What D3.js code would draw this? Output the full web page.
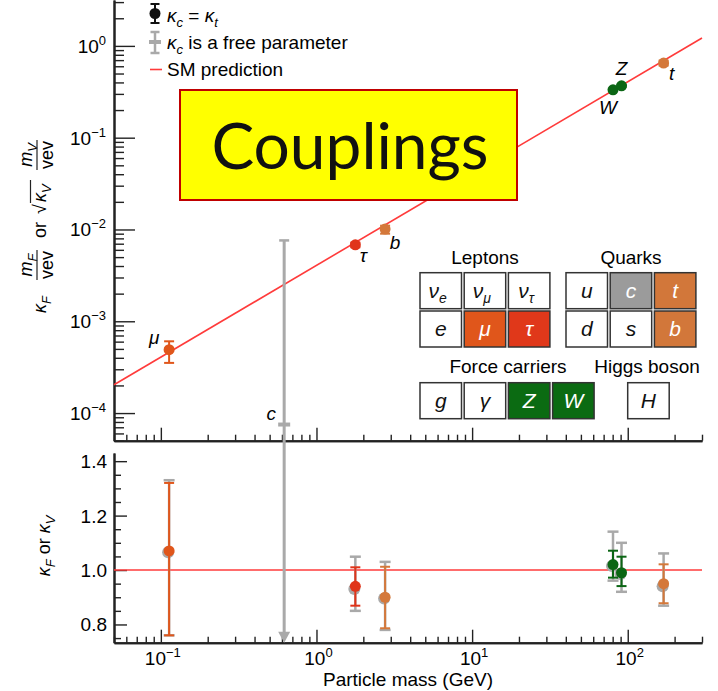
<!DOCTYPE html>
<html>
  <head>
    <meta charset="utf-8">
    <title>Couplings</title>
    <script src="https://d3js.org/d3.v7.min.js"></script>
    <style>
      body { margin: 0; background: #fff; }
      svg { font-family: "Liberation Sans", Arial, sans-serif; }
      .axis path, .axis line { stroke: #222; }
      .it { font-style: italic; }
    </style>
  </head>
  <body>
    <script type="text/javascript">
    // ---- data ----
    var names    = ['mu', 'tau', 'b', 'W', 'Z', 't'];
    var symbols  = ['\u03bc', '\u03c4', 'b', 'W', 'Z', 't'];
    var masses   = [0.113, 1.777, 2.76, 80.4, 91.2, 170];      // GeV
    var colours  = ['#e0561b', '#e0341a', '#d4783a', '#0b6614', '#0b6614', '#d4783a'];

    // top panel: kappa * m / vev (or sqrt(kappa) m / vev)
    var topValue = [4.9e-4, 6.8e-3, 1.01e-2, 0.332, 0.367, 0.65];
    var topLow   = [3.52e-4, 6.4e-3, 9.0e-3, 0.325, 0.358, 0.61];
    var topHigh  = [6.05e-4, 7.2e-3, 1.1e-2, 0.34, 0.376, 0.69];

    // bottom panel: kappa values, kappa_c = kappa_t
    var kappa     = [1.07, 0.94, 0.90, 1.02, 0.99, 0.95];
    var kappaLow  = [0.76, 0.869, 0.786, 0.972, 0.941, 0.878];
    var kappaHigh = [1.32, 1.01, 1.012, 1.071, 1.049, 1.021];

    // bottom panel: kappa_c free (grey)
    var freeKappa = [1.065, 0.93, 0.895, 1.015, 0.985, 0.94];
    var freeLow   = [0.76, 0.85, 0.78, 0.961, 0.92, 0.869];
    var freeHigh  = [1.33, 1.049, 1.03, 1.141, 1.10, 1.061];

    // charm quark, only with kappa_c free
    var charmMass = 0.62;
    var charmValue = 7.5e-5;
    var charmHigh = 7.6e-3;

    var vev = 246;
    var smMasses = [0.05, 300];   // ends of the SM line

    var xDecades = [0.1, 1, 10, 100];
    var yDecades = [1e-4, 1e-3, 1e-2, 1e-1, 1];
    var kappaMajor = [0.8, 1.0, 1.2, 1.4];

    // particle table
    var leptons1 = ['\u03bd|e', '\u03bd|\u03bc', '\u03bd|\u03c4'];
    var leptons2 = ['e', '\u03bc', '\u03c4'];
    var quarks1  = ['u', 'c', 't'];
    var quarks2  = ['d', 's', 'b'];
    var forces   = ['g', '\u03b3', 'Z', 'W'];
    var higgs    = ['H'];
    var boxFill = {
      '\u03bc': '#e0561b', '\u03c4': '#e0381a', 'c': '#9b9b9b',
      't': '#d2773a', 'b': '#d2773a', 'Z': '#0b6b12', 'W': '#0b6b12'
    };

    // ---- layout ----
    var W = 718, H = 691;
    var left = 114, right = 702;
    var topTop = 0, topBottom = 440.7;
    var botTop = 453, botBottom = 642.7;
    var grey = '#a9a9a9';
    var red = '#ff3b3b';

    var svg = d3.select('body').append('svg')
        .attr('width', W)
        .attr('height', H);

    var x = d3.scaleLog().domain([0.05, 300]).range([left, right]);
    var yTop = d3.scaleLog().domain([5e-5, Math.pow(10, 0.5)]).range([topBottom, topTop]);
    var yBot = d3.scaleLinear().domain([0.733, 1.43]).range([botBottom, botTop]);

    var isDecade = function(v) { return Math.abs(Math.log10(v) - Math.round(Math.log10(v))) < 1e-6; };

    // ---- axes ----
    var xMinor = x.ticks().filter(function(v) { return !isDecade(v); });
    var yMinor = yTop.ticks().filter(function(v) { return !isDecade(v); });
    var kMinor = yBot.ticks(14).filter(function(v) { return kappaMajor.indexOf(Math.round(v * 100) / 100) < 0; });

    function ticks(g, axis, values, size) {
      g.attr('class', 'axis')
        .call(axis.tickValues(values).tickSize(size).tickSizeOuter(0).tickFormat(''))
      g.select('.domain').attr('stroke-width', 2);
      g.selectAll('.tick line').attr('stroke-width', 1.4);
    }

    // top panel x ticks (pointing up)
    ticks(svg.append('g').attr('transform', 'translate(0,' + topBottom + ')'), d3.axisTop(x), xMinor, 6);
    ticks(svg.append('g').attr('transform', 'translate(0,' + topBottom + ')'), d3.axisTop(x), xDecades, 13);
    // top panel y ticks (pointing right)
    ticks(svg.append('g').attr('transform', 'translate(' + left + ',0)'), d3.axisRight(yTop), yMinor, 10);
    ticks(svg.append('g').attr('transform', 'translate(' + left + ',0)'), d3.axisRight(yTop), yDecades, 21);
    // bottom panel
    ticks(svg.append('g').attr('transform', 'translate(0,' + botBottom + ')'), d3.axisTop(x), xMinor, 6);
    ticks(svg.append('g').attr('transform', 'translate(0,' + botBottom + ')'), d3.axisTop(x), xDecades, 13);
    ticks(svg.append('g').attr('transform', 'translate(' + left + ',0)'), d3.axisRight(yBot), kMinor, 7);
    ticks(svg.append('g').attr('transform', 'translate(' + left + ',0)'), d3.axisRight(yBot), kappaMajor, 13);

    // tick labels with superscripts
    function power(sel, v) {
      var e = Math.round(Math.log10(v));
      sel.text('10');
      sel.append('tspan')
        .attr('font-size', 13)
        .attr('dy', -8)
        .text(e < 0 ? '\u2212' + (-e) : e);
    }

    svg.append('g').selectAll('text')
      .data(yDecades)
      .enter().append('text')
      .attr('x', 106)
      .attr('y', function(d) { return yTop(d) + 7; })
      .attr('text-anchor', 'end')
      .attr('font-size', 19)
      .each(function(d) { power(d3.select(this), d); });

    svg.append('g').selectAll('text')
      .data(xDecades)
      .enter().append('text')
      .attr('x', function(d) { return x(d) + 2; })
      .attr('y', 665)
      .attr('text-anchor', 'middle')
      .attr('font-size', 19)
      .each(function(d) { power(d3.select(this), d); });

    svg.append('g').selectAll('text')
      .data(kappaMajor)
      .enter().append('text')
      .attr('x', 107)
      .attr('y', function(d) { return yBot(d) + 7; })
      .attr('text-anchor', 'end')
      .attr('font-size', 19)
      .text(function(d) { return d.toFixed(1); });

    svg.append('text')
      .attr('x', (left + right) / 2)
      .attr('y', 686)
      .attr('text-anchor', 'middle')
      .attr('font-size', 19)
      .text('Particle mass (GeV)');

    // y-axis titles (rotated)
    var yt = svg.append('g')
      .attr('transform', 'translate(46,313) rotate(-90)')
      .attr('font-size', 18);

    function kap(g, xPos, sub) {
      var t = g.append('text').attr('x', xPos).attr('y', 0);
      t.append('tspan').attr('class', 'it').text('\u03ba');
      t.append('tspan').attr('class', 'it').attr('font-size', 13).attr('dy', 5).text(sub);
    }
    function frac(g, cx, sub) {
      var n = g.append('text').attr('x', cx).attr('y', -14).attr('text-anchor', 'middle');
      n.append('tspan').attr('class', 'it').text('m');
      n.append('tspan').attr('class', 'it').attr('font-size', 13).attr('dy', 5).text(sub);
      g.append('line')
        .attr('x1', cx - 15).attr('x2', cx + 15)
        .attr('y1', -9).attr('y2', -9)
        .attr('stroke', '#222').attr('stroke-width', 1.2);
      g.append('text').attr('x', cx).attr('y', 7).attr('text-anchor', 'middle').text('vev');
    }
    kap(yt, 0, 'F');
    frac(yt, 48, 'F');
    yt.append('text').attr('x', 75).attr('y', 0).text('or');
    yt.append('text').attr('x', 99).attr('y', 0).text('\u221a');
    kap(yt, 111, 'V');
    yt.append('line')
      .attr('x1', 110).attr('x2', 133)
      .attr('y1', -15.5).attr('y2', -15.5)
      .attr('stroke', '#222').attr('stroke-width', 1.2);
    frac(yt, 158, 'V');

    var yb = svg.append('g')
      .attr('transform', 'translate(50,546) rotate(-90)')
      .attr('font-size', 18);
    var ybt = yb.append('text').attr('x', 0).attr('y', 0).attr('text-anchor', 'middle');
    ybt.append('tspan').attr('class', 'it').text('\u03ba');
    ybt.append('tspan').attr('class', 'it').attr('font-size', 13).attr('dy', 5).text('F');
    ybt.append('tspan').attr('dy', -5).text(' or ');
    ybt.append('tspan').attr('class', 'it').text('\u03ba');
    ybt.append('tspan').attr('class', 'it').attr('font-size', 13).attr('dy', 5).text('V');

    // ---- SM predictions ----
    svg.append('line')
      .attr('x1', x(smMasses[0])).attr('x2', x(smMasses[1]))
      .attr('y1', yTop(smMasses[0] / vev)).attr('y2', yTop(smMasses[1] / vev))
      .attr('stroke', red).attr('stroke-width', 1.6);
    svg.append('line')
      .attr('x1', left).attr('x2', right)
      .attr('y1', yBot(1)).attr('y2', yBot(1))
      .attr('stroke', red).attr('stroke-width', 1.6);

    // ---- charm (grey, free parameter) ----
    var cx = x(charmMass);
    svg.append('line')
      .attr('x1', cx).attr('x2', cx)
      .attr('y1', yTop(charmHigh)).attr('y2', botBottom - 8)
      .attr('stroke', grey).attr('stroke-width', 3);
    svg.append('line')
      .attr('x1', cx - 5).attr('x2', cx + 5)
      .attr('y1', yTop(charmHigh)).attr('y2', yTop(charmHigh))
      .attr('stroke', grey).attr('stroke-width', 2.5);
    svg.append('path')
      .attr('d', 'M' + (cx - 6) + ',' + (botBottom - 11) + 'L' + (cx + 6) + ',' + (botBottom - 11) + 'L' + cx + ',' + botBottom + 'Z')
      .attr('fill', grey);
    svg.append('rect')
      .attr('x', cx - 6).attr('y', yTop(charmValue) - 2)
      .attr('width', 12).attr('height', 4)
      .attr('fill', grey);

    // ---- error bar helper ----
    function errbar(g, xp, y1, y2, colour, w, cap) {
      g.append('line').attr('x1', xp).attr('x2', xp).attr('y1', y1).attr('y2', y2)
        .attr('stroke', colour).attr('stroke-width', w);
      [y1, y2].forEach(function(yy) {
        g.append('line').attr('x1', xp - cap).attr('x2', xp + cap).attr('y1', yy).attr('y2', yy)
          .attr('stroke', colour).attr('stroke-width', w);
      });
    }

    // ---- top panel points ----
    var topG = svg.append('g');
    names.forEach(function(n, i) {
      errbar(topG, x(masses[i]), yTop(topLow[i]), yTop(topHigh[i]), colours[i], 2, 5);
    });
    topG.selectAll('circle')
      .data(names)
      .enter().append('circle')
      .attr('cx', function(d, i) { return x(masses[i]); })
      .attr('cy', function(d, i) { return yTop(topValue[i]); })
      .attr('r', 5.5)
      .attr('fill', function(d, i) { return colours[i]; });

    // particle labels next to points
    var labelOffset = { mu: [-15, -6], tau: [8, 17], b: [10, 20], W: [-5, 24], Z: [0, -11], t: [8, 17] };
    topG.selectAll('text.lab')
      .data(names)
      .enter().append('text')
      .attr('class', 'lab it')
      .attr('x', function(d, i) { return x(masses[i]) + labelOffset[d][0]; })
      .attr('y', function(d, i) { return yTop(topValue[i]) + labelOffset[d][1]; })
      .attr('text-anchor', 'middle')
      .attr('font-size', 19)
      .text(function(d, i) { return symbols[i]; });
    topG.append('text')
      .attr('class', 'it')
      .attr('x', cx - 13).attr('y', yTop(charmValue) - 5)
      .attr('text-anchor', 'middle')
      .attr('font-size', 19)
      .text('c');

    // ---- bottom panel points ----
    var botG = svg.append('g');
    names.forEach(function(n, i) {
      errbar(botG, x(masses[i]), yBot(freeLow[i]), yBot(freeHigh[i]), grey, 2.5, 5.5);
    });
    names.forEach(function(n, i) {
      botG.append('circle')
        .attr('cx', x(masses[i]) - 1).attr('cy', yBot(freeKappa[i]))
        .attr('r', 6).attr('fill', grey);
    });
    names.forEach(function(n, i) {
      errbar(botG, x(masses[i]), yBot(kappaLow[i]), yBot(kappaHigh[i]), colours[i], 2, 5);
    });
    botG.selectAll('circle.k')
      .data(names)
      .enter().append('circle')
      .attr('class', 'k')
      .attr('cx', function(d, i) { return x(masses[i]); })
      .attr('cy', function(d, i) { return yBot(kappa[i]); })
      .attr('r', 5.5)
      .attr('fill', function(d, i) { return colours[i]; });

    // ---- legend ----
    var lg = svg.append('g').attr('font-size', 19);
    errbar(lg, 155, 4, 23, '#111', 2, 4.5);
    lg.append('circle').attr('cx', 155).attr('cy', 13.5).attr('r', 5.5).attr('fill', '#111');
    var l1 = lg.append('text').attr('x', 167).attr('y', 22);
    l1.append('tspan').attr('class', 'it').text('\u03ba');
    l1.append('tspan').attr('class', 'it').attr('font-size', 13).attr('dy', 5).text('c');
    l1.append('tspan').attr('dy', -5).text(' = ');
    l1.append('tspan').attr('class', 'it').text('\u03ba');
    l1.append('tspan').attr('class', 'it').attr('font-size', 13).attr('dy', 5).text('t');

    errbar(lg, 155, 32, 53, grey, 2.5, 4.5);
    lg.append('rect').attr('x', 149).attr('y', 40).attr('width', 12).attr('height', 4).attr('fill', grey);
    var l2 = lg.append('text').attr('x', 167).attr('y', 49);
    l2.append('tspan').attr('class', 'it').text('\u03ba');
    l2.append('tspan').attr('class', 'it').attr('font-size', 13).attr('dy', 5).text('c');
    l2.append('tspan').attr('dy', -5).text(' is a free parameter');

    lg.append('line').attr('x1', 150).attr('x2', 162).attr('y1', 69.5).attr('y2', 69.5)
      .attr('stroke', red).attr('stroke-width', 1.6);
    lg.append('text').attr('x', 167).attr('y', 76).text('SM prediction');

    // ---- particle table ----
    var bw = 41.5, bh = 36, gap = 2.7;
    function boxRow(items, x0, y0) {
      items.forEach(function(s, i) {
        var parts = s.split('|');
        var fill = boxFill[parts[0]] && !parts[1] ? boxFill[parts[0]] : '#fff';
        var bx = x0 + i * (bw + gap);
        svg.append('rect')
          .attr('x', bx).attr('y', y0).attr('width', bw).attr('height', bh)
          .attr('fill', fill).attr('stroke', '#333').attr('stroke-width', 1.5);
        var t = svg.append('text')
          .attr('class', 'it')
          .attr('x', bx + bw / 2 + (parts[1] ? -3 : 0)).attr('y', y0 + 25)
          .attr('text-anchor', 'middle')
          .attr('font-size', 21)
          .attr('fill', fill === '#fff' ? '#111' : '#fff')
          .text(parts[0]);
        if (parts[1]) {
          t.append('tspan').attr('font-size', 14).attr('dy', 5).text(parts[1]);
        }
      });
    }
    boxRow(leptons1, 420, 272.7);
    boxRow(leptons2, 420, 311);
    boxRow(quarks1, 566, 272.7);
    boxRow(quarks2, 566, 311);
    boxRow(forces, 420, 382.7);
    boxRow(higgs, 627.7, 382.7);

    var heads = [['Leptons', 485, 264], ['Quarks', 631, 264], ['Force carriers', 508, 373], ['Higgs boson', 647, 373]];
    heads.forEach(function(h) {
      svg.append('text')
        .attr('x', h[1]).attr('y', h[2])
        .attr('text-anchor', 'middle')
        .attr('font-size', 19)
        .text(h[0]);
    });

    // ---- yellow title box ----
    svg.append('rect')
      .attr('x', 180).attr('y', 90).attr('width', 337).attr('height', 110)
      .attr('fill', '#ffff00').attr('stroke', '#c00000').attr('stroke-width', 2);
    svg.append('text')
      .attr('x', 350).attr('y', 169)
      .attr('text-anchor', 'middle')
      .attr('font-family', 'Lato, "Open Sans", sans-serif')
      .attr('font-size', 64)
      .attr('fill', '#111')
      .text('Couplings');
    </script>
  </body>
</html>
